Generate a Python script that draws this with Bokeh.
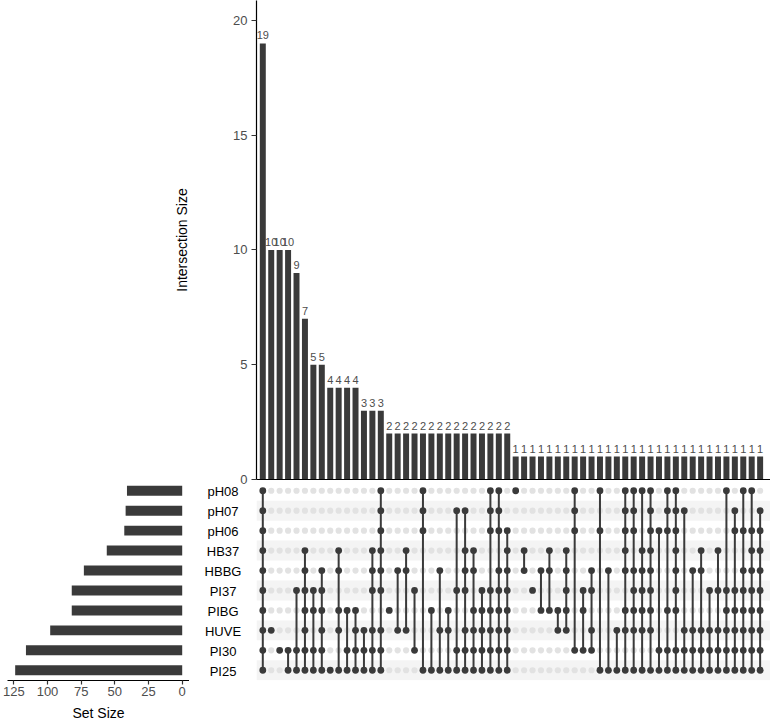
from bokeh.plotting import figure
from bokeh.layouts import column, row
from bokeh.models import Range1d, FixedTicker, ColumnDataSource
from bokeh.core.properties import value
from bokeh.embed import file_html
from bokeh.resources import INLINE

# ---------------- data ----------------
set_names = ["pH08", "pH07", "pH06", "HB37", "HBBG", "PI37", "PIBG", "HUVE", "PI30", "PI25"]
set_sizes = [41, 42, 43, 56, 73, 82, 82, 98, 116, 124]

intersection_sizes = [19, 10, 10, 10, 9, 7, 5, 5, 4, 4, 4, 4, 3, 3, 3,
                      2, 2, 2, 2, 2, 2, 2, 2, 2, 2, 2, 2, 2, 2, 2,
                      1, 1, 1, 1, 1, 1, 1, 1, 1, 1, 1, 1, 1, 1, 1,
                      1, 1, 1, 1, 1, 1, 1, 1, 1, 1, 1, 1, 1, 1, 1]

intersection_members = [
    "pH08&pH07&pH06&HB37&HBBG&PI37&PIBG&HUVE&PI30&PI25",
    "HUVE",
    "PI30",
    "PI30&PI25",
    "PI37&PI30&PI25",
    "HB37&HBBG&PI37&PIBG&HUVE&PI30&PI25",
    "PI37&PIBG&PI30&PI25",
    "HBBG&PI37&PIBG&HUVE&PI30&PI25",
    "PI25",
    "HB37&HBBG&PIBG&HUVE&PI25",
    "PIBG&PI30&PI25",
    "PIBG&HUVE&PI30&PI25",
    "HUVE&PI30&PI25",
    "HB37&HBBG&PI37&HUVE&PI30&PI25",
    "pH08&pH07&pH06&HB37&HBBG&PI37&HUVE&PI30&PI25",
    "PIBG",
    "HBBG&HUVE",
    "HB37&HBBG&HUVE",
    "PI37&PI30",
    "pH08&pH07&pH06&PI25",
    "PIBG&PI25",
    "HBBG&HUVE&PI25",
    "PIBG&HUVE&PI25",
    "pH07&PI37&PI30&PI25",
    "pH07&HB37&HBBG&PI37&HUVE&PI30&PI25",
    "HB37&HBBG&PIBG&HUVE&PI30&PI25",
    "PI37&PIBG&HUVE&PI30&PI25",
    "pH08&pH07&pH06&PI37&PIBG&HUVE&PI30&PI25",
    "pH08&pH07&pH06&HBBG&PI37&PIBG&HUVE&PI30&PI25",
    "pH06&HB37&HBBG&PI37&PIBG&HUVE&PI30&PI25",
    "pH08",
    "HB37&HBBG",
    "PI37",
    "HBBG&PIBG",
    "HB37&HBBG&PIBG",
    "PIBG&HUVE",
    "HB37&HBBG&PI37&PIBG&HUVE",
    "pH08&pH07&pH06&PI30",
    "PI37&PIBG&PI30",
    "HBBG&PI37&HUVE&PI30",
    "pH08&pH06&PI25",
    "HBBG&PI25",
    "HUVE&PI25",
    "pH08&pH07&pH06&HB37&HBBG&PIBG&HUVE&PI25",
    "pH08&pH07&pH06&HBBG&PI37&PIBG&HUVE&PI25",
    "pH08&HB37&HBBG&PI37&PIBG&HUVE&PI25",
    "pH08&pH07&pH06&HB37&HBBG&PI37&PIBG&HUVE&PI25",
    "pH06&PI30&PI25",
    "pH08&pH07&pH06&PIBG&PI30&PI25",
    "pH08&pH07&pH06&HB37&HBBG&PI37&PIBG&PI30&PI25",
    "pH07&HUVE&PI30&PI25",
    "HBBG&HUVE&PI30&PI25",
    "HB37&HBBG&HUVE&PI30&PI25",
    "PI37&HUVE&PI30&PI25",
    "HB37&PI37&HUVE&PI30&PI25",
    "pH08&PI37&PIBG&HUVE&PI30&PI25",
    "pH07&pH06&PI37&PIBG&HUVE&PI30&PI25",
    "pH08&pH06&HBBG&PI37&PIBG&HUVE&PI30&PI25",
    "pH08&pH06&HB37&HBBG&PI37&PIBG&HUVE&PI30&PI25",
    "pH07&pH06&HB37&HBBG&PI37&PIBG&HUVE&PI30&PI25",
]

intersection_ticks = [0, 5, 10, 15, 20]
set_size_ticks = [0, 25, 50, 75, 100, 125]

# ---------------- styling ----------------
FONT = "Liberation Sans"
DARK = "#3a3a3a"
GREY_TXT = "#4d4d4d"

n_sets = len(set_names)
n_cols = len(intersection_sizes)
set_y = {name: n_sets - 1 - i for i, name in enumerate(set_names)}
col_x = list(range(n_cols))

x_rng = Range1d(-0.747, 60.23)
row_rng = Range1d(-0.513, 9.313)
BOTTOM_H = 239
BOTTOM_BORDER = 41
OVERLAP = 4


def base_fig(transparent=False, **kw):
    p = figure(output_backend="svg", toolbar_location=None, **kw)
    p.outline_line_color = None
    if transparent:
        p.background_fill_color = None
        p.border_fill_color = None
    else:
        p.background_fill_color = "white"
        p.border_fill_color = "white"
    p.min_border = 0
    return p


# ---------------- intersection bar chart ----------------
p_bar = base_fig(width=770, height=479 + 5 + OVERLAP, x_range=x_rng, y_range=Range1d(0, 20.87))
p_bar.xgrid.grid_line_color = None
p_bar.ygrid.grid_line_color = None
p_bar.min_border_left = 256
p_bar.min_border_bottom = 5 + OVERLAP
bar_src = ColumnDataSource(dict(x=col_x, top=intersection_sizes,
                                lab=[str(v) for v in intersection_sizes]))
p_bar.vbar(x="x", top="top", bottom=0, width=0.71, source=bar_src,
           fill_color=DARK, line_color=None)
p_bar.text(x="x", y="top", text="lab", source=bar_src, text_align="center",
           text_baseline="alphabetic", y_offset=-8, text_font=value(FONT),
           text_font_size="11px", text_color=GREY_TXT)

ya = p_bar.yaxis[0]
ya.ticker = FixedTicker(ticks=intersection_ticks)
ya.axis_label = "Intersection Size"
ya.axis_label_text_font = FONT
ya.axis_label_text_font_size = "14px"
ya.axis_label_text_font_style = "normal"
ya.axis_label_text_color = "black"
ya.axis_label_standoff = 40
ya.major_label_text_font = FONT
ya.major_label_text_font_size = "13px"
ya.major_label_text_color = GREY_TXT
ya.major_label_standoff = 4
ya.axis_line_color = "black"
ya.axis_line_width = 1.2
ya.major_tick_line_color = "#333333"
ya.major_tick_line_width = 1.2
ya.major_tick_out = 5
ya.major_tick_in = 0
ya.minor_tick_line_color = None

xa = p_bar.xaxis[0]
xa.ticker = FixedTicker(ticks=[])
xa.axis_line_color = "black"
xa.axis_line_width = 1.2
xa.major_tick_line_color = None
xa.minor_tick_line_color = None
xa.major_tick_out = 0
xa.major_tick_in = 0
xa.major_label_standoff = 0

# ---------------- matrix ----------------
p_mat = base_fig(transparent=True, width=514, height=BOTTOM_H, x_range=x_rng, y_range=row_rng,
                 x_axis_type=None, y_axis_type=None)
p_mat.grid.visible = False
p_mat.min_border_bottom = BOTTOM_BORDER

stripe_y = [set_y[n] for i, n in enumerate(set_names) if i % 2 == 1]
p_mat.hbar(y=stripe_y, left=x_rng.start, right=x_rng.end, height=1.0,
           fill_color="#f4f4f4", line_color=None)

bg_x, bg_y, on_x, on_y = [], [], [], []
seg_x, seg_y0, seg_y1 = [], [], []
for c, mem in enumerate(intersection_members):
    names = mem.split("&")
    ys = [set_y[n] for n in names]
    for n in set_names:
        if n in names:
            on_x.append(c)
            on_y.append(set_y[n])
        else:
            bg_x.append(c)
            bg_y.append(set_y[n])
    if len(ys) > 1:
        seg_x.append(c)
        seg_y0.append(min(ys))
        seg_y1.append(max(ys))

p_mat.scatter(bg_x, bg_y, size=6.2, fill_color="#e2e2e2", line_color=None)
p_mat.segment(x0=seg_x, y0=seg_y0, x1=seg_x, y1=seg_y1, line_color=DARK, line_width=2)
p_mat.scatter(on_x, on_y, size=6.8, fill_color=DARK, line_color=None)

# ---------------- set labels ----------------
p_lab = base_fig(transparent=True, width=67, height=BOTTOM_H, x_range=Range1d(0, 1), y_range=row_rng,
                 x_axis_type=None, y_axis_type=None)
p_lab.grid.visible = False
p_lab.min_border_bottom = BOTTOM_BORDER
p_lab.text(x=[0.5] * n_sets, y=[set_y[n] for n in set_names], text=set_names,
           text_align="center", text_baseline="middle", y_offset=1,
           text_font=value(FONT), text_font_size="13px", text_color="black")

# ---------------- set size bars ----------------
p_set = base_fig(transparent=True, width=189, height=BOTTOM_H, x_range=Range1d(129.7, -5.42),
                 y_range=row_rng, y_axis_type=None)
p_set.grid.visible = False
p_set.min_border_left = 7
p_set.min_border_bottom = BOTTOM_BORDER
p_set.hbar(y=[set_y[n] for n in set_names], left=0, right=set_sizes, height=0.5,
           fill_color=DARK, line_color=None)
sa = p_set.xaxis[0]
sa.ticker = FixedTicker(ticks=set_size_ticks)
sa.axis_label = "Set Size"
sa.axis_label_text_font = FONT
sa.axis_label_text_font_size = "14px"
sa.axis_label_text_font_style = "normal"
sa.axis_label_text_color = "black"
sa.axis_label_standoff = 6
sa.major_label_text_font = FONT
sa.major_label_text_font_size = "13px"
sa.major_label_text_color = GREY_TXT
sa.major_label_standoff = 2
sa.axis_line_color = "black"
sa.axis_line_width = 1.2
sa.major_tick_line_color = "#333333"
sa.major_tick_line_width = 1.2
sa.major_tick_out = 4
sa.major_tick_in = 0
sa.minor_tick_line_color = None

bottom = row(p_set, p_lab, p_mat, margin=(-OVERLAP, 0, 0, 0))
layout = column(p_bar, bottom)

open("out.html", "w").write(file_html(layout, INLINE))
